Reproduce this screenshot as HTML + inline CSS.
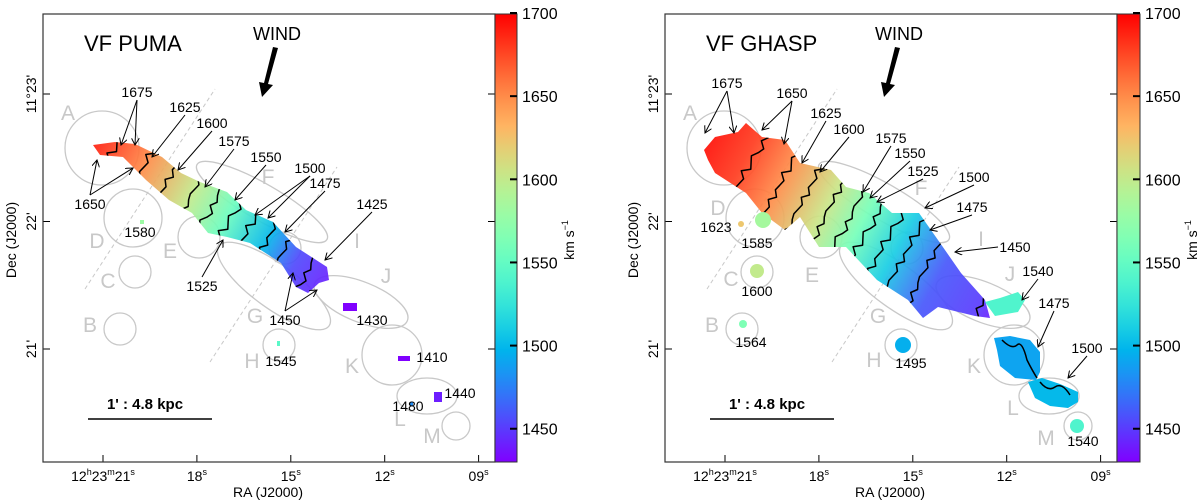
<!DOCTYPE html>
<html><head><meta charset="utf-8"><style>
html,body{margin:0;padding:0;background:#fff}
svg{display:block}
text{font-family:"Liberation Sans","DejaVu Sans",sans-serif}
</style></head><body>
<svg id="fig" width="1200" height="504" viewBox="0 0 1200 504" xmlns="http://www.w3.org/2000/svg"></svg>
<script>
// ---- data ----
const raTicks = ['21','18','15','12','09'];
const raTickSec = [21,18,15,12,9];
const decTicks = ["11°23'", "22'", "21'"];
const decTickMin = [23,22,21];
const cbarTicks = [1700,1650,1600,1550,1500,1450];
const vMin = 1430, vMax = 1700;
const leftStopFrac = [0,0.2,0.4,0.55,0.72,0.85,1];
const leftStopVel = [1690,1650,1600,1555,1500,1455,1440];
const rightStopFrac = [0,0.12,0.25,0.4,0.52,0.65,0.8,0.95,1];
const rightStopVel = [1695,1680,1650,1605,1560,1510,1460,1450,1440];
const contourLevels = [1675,1650,1625,1600,1575,1550,1525,1500,1475,1450];
const leftBlobVel = [1580,1430,1410,1545,1440,1480];
const rightBlobVel = [1623,1585,1600,1564,1495,1540,1540,1490,1500];

// ---- helpers ----
const svg = document.getElementById('fig');
const NS = 'http://www.w3.org/2000/svg';
function mk(tag, attrs, parent){ const e=document.createElementNS(NS,tag); for(const k in attrs) e.setAttribute(k,attrs[k]); (parent||svg).appendChild(e); return e; }
function rainbow(v){ let t=(v-vMin)/(vMax-vMin); t=Math.max(0,Math.min(1,t));
  const r=Math.min(1,Math.abs(2*t-0.5)), g=Math.sin(Math.PI*t), b=Math.cos(Math.PI*t/2);
  return 'rgb('+Math.round(r*255)+','+Math.round(g*255)+','+Math.round(b*255)+')'; }
function xRA(s, off){ return off + 103 + (21 - s)*31.3; }
function yDec(m){ return 349 - (m-21)*127.5; }
function yV(v){ return 462 - (v - vMin)/(vMax - vMin)*449; }

const defs = mk('defs',{});
function panel(off, title, isRight){
  const g = mk('g',{});
  
  
  const L=off+43, R=off+495, T=14, B=462;
  raTickSec.forEach((s,i)=>{ const x=xRA(s,off);
    const t=mk('line',{x1:x,y1:B,x2:x,y2:B-7,stroke:'#000','stroke-width':1},g);
     
    const tx=mk('text',{x:x,y:B+19,'font-size':14,'text-anchor':'middle'},g);
     
    if(i===0){ tx.innerHTML='12<tspan font-size="9" dy="-6">h</tspan><tspan dy="6">23</tspan><tspan font-size="9" dy="-6">m</tspan><tspan dy="6">21</tspan><tspan font-size="9" dy="-6">s</tspan>'; }
    else { tx.innerHTML=raTicks[i]+'<tspan font-size="9" dy="-6">s</tspan>'; }
  });
  decTickMin.forEach((m,i)=>{ const y=yDec(m);
    const t=mk('line',{x1:L,y1:y,x2:L+7,y2:y,stroke:'#000'},g);
     
    mk('line',{x1:R,y1:y,x2:R-7,y2:y,stroke:'#000'},g);
    const tx=mk('text',{x:0,y:0,'font-size':14,'text-anchor':'middle',transform:'translate('+(off+36)+','+y+') rotate(-90)'},g);
    tx.textContent=decTicks[i];
     
  });
  const xl=mk('text',{x:off+268,y:497,'font-size':14,'text-anchor':'middle'},g); xl.textContent='RA (J2000)';
   
  const yl=mk('text',{x:0,y:0,'font-size':14,'text-anchor':'middle',transform:'translate('+(off+16)+',240) rotate(-90)'},g); yl.textContent='Dec (J2000)';
   

  const gray='#c8c8c8';
  const circ=[[102,148,37],[133,218,29],[135,272,16],[120,329,16],[199,237,21],[285,248,16],[279,345,16],[392,355,30],[456,426,14]];
  circ.forEach(c=>{ const e=mk('circle',{cx:c[0]+off,cy:c[1],r:c[2],fill:'none',stroke:gray,'stroke-width':1.3},g);
      });
  const ell=[[262,202,75,18,30],[274,286,68,22,36],[361,302,50,20,22],[427,396,30,18,0]];
  ell.forEach(c=>{ const e=mk('ellipse',{cx:c[0]+off,cy:c[1],rx:c[2],ry:c[3],fill:'none',stroke:gray,'stroke-width':1.3,transform:'rotate('+c[4]+' '+(c[0]+off)+' '+c[1]+')'},g);
      });
  [[85,289,215,89],[210,362,337,167]].forEach(l=>{ const e=mk('line',{x1:l[0]+off,y1:l[1],x2:l[2]+off,y2:l[3],stroke:gray,'stroke-dasharray':'4,3'},g);
      });
  const letters = isRight
    ? [['A',690,120],['D',718,215],['C',731,286],['B',712,332],['E',812,282],['F',921,195],['G',878,323],['H',874,367],['I',981,246],['J',1010,281],['K',974,373],['L',1013,415],['M',1046,445]]
    : [['A',68,120],['D',97,248],['C',108,288],['B',90,332],['E',170,258],['F',268,184],['G',255,323],['H',252,368],['I',357,248],['J',386,283],['K',352,373],['L',400,426],['M',432,443]];
  letters.forEach(l=>{ const t=mk('text',{x:l[1],y:l[2],'font-size':21,fill:gray,'text-anchor':'middle'},g); t.textContent=l[0];
      });

  const poly = isRight
    ? [[704,150],[715,137],[738,132],[746,123],[762,137],[785,140],[800,163],[831,170],[846,187],[869,193],[892,213],[919,213],[938,240],[961,273],[985,300],[990,318],[975,316],[938,307],[923,318],[908,300],[877,280],[846,247],[819,247],[800,217],[785,230],[762,213],[746,193],[715,173],[708,160]]
    : [[93,145],[115,142],[135,144],[162,157],[181,173],[200,182],[227,192],[246,210],[273,222],[296,247],[327,267],[329,280],[319,283],[308,293],[296,287],[281,263],[250,243],[227,237],[208,233],[192,213],[169,200],[146,180],[123,157],[100,155]];
  const ax = isRight ? [704,150,995,312] : [93,145,332,282];
  const fr = isRight ? rightStopFrac : leftStopFrac, vs = isRight ? rightStopVel : leftStopVel;
  const gid = isRight ? 'gradR' : 'gradL';
  const lg = mk('linearGradient',{id:gid,gradientUnits:'userSpaceOnUse',x1:ax[0],y1:ax[1],x2:ax[2],y2:ax[3]},defs);
  fr.forEach((f,i)=>mk('stop',{offset:f,'stop-color':rainbow(vs[i])},lg));
  const cid = isRight ? 'clipR' : 'clipL';
  const cp = mk('clipPath',{id:cid},defs);
  const pts = poly.map(p=>p.join(',')).join(' ');
  mk('polygon',{points:pts},cp);
  const gal = mk('polygon',{points:pts,fill:'url(#'+gid+')','fill-opacity':0.92},g);
   
  const cg = mk('g',{'clip-path':'url(#'+cid+')'},g);
  const dx=ax[2]-ax[0], dy=ax[3]-ax[1], len=Math.hypot(dx,dy), ux=dx/len, uy=dy/len, px=-uy, py=ux;
  const wig=[0,2,-1,3,1,-2,0,2,-3,1,0,-1,2,-2,1,0,-1];
  contourLevels.forEach((lv,ci)=>{
    let f=null;
    for(let i=0;i<vs.length-1;i++){ if((vs[i]-lv)*(vs[i+1]-lv)<=0 && vs[i]!==vs[i+1]){ f=fr[i]+(fr[i+1]-fr[i])*(vs[i]-lv)/(vs[i]-vs[i+1]); break; } }
    if(f===null) return;
    const cx=ax[0]+dx*f, cy=ax[1]+dy*f; let d='';
    for(let k=-8;k<=8;k++){ const s=k*6, w=wig[(k+8+ci*3)%wig.length]*1.5; d+=(k===-8?'M':'L')+(cx+px*s+ux*w).toFixed(1)+','+(cy+py*s+uy*w).toFixed(1); }
    const c=mk('path',{d:d,fill:'none',stroke:'#000','stroke-width':1.5,'stroke-linejoin':'round'},cg);
     
  });
  if(isRight){
    const tail=mk('polygon',{points:'985,302 1000,298 1018,292 1025,300 1018,312 995,316',fill:rainbow(1540)},g);
     
    const k=mk('polygon',{points:'994,338 1010,336 1030,340 1040,352 1040,372 1036,380 1015,378 1000,366 997,350',fill:rainbow(rightBlobVel[7])},g);
     
    const l=mk('polygon',{points:'1028,382 1042,378 1060,384 1078,392 1078,402 1068,408 1050,406 1035,398',fill:rainbow(rightBlobVel[8])},g);
     
    mk('path',{d:'M1002,340 q10,10 15,5 t10,15 q5,10 10,18 M1040,382 q8,10 15,5 t15,8',fill:'none',stroke:'#000','stroke-width':1.5},g);
    const blobs=[[741,224,3],[763,220,8],[757,271,7],[743,324,4],[903,345,8],[1077,426,7]];
    const bv=[0,1,2,3,4,6];
    blobs.forEach((b,i)=>{ const e=mk('circle',{cx:b[0],cy:b[1],r:b[2],fill:rainbow(rightBlobVel[bv[i]])},g);
        });
  } else {
    const blobs=[[140,220,4,4],[343,303,14,8],[398,356,12,5],[277,341,3,5],[434,392,8,10],[410,402,3,4]];
    blobs.forEach((b,i)=>{ const e=mk('rect',{x:b[0],y:b[1],width:b[2],height:b[3],fill:rainbow(leftBlobVel[i])},g);
        });
  }

  const labs = isRight
    ? [['1675',727,88,[[705,133],[734,133]]],['1650',792,98,[[762,130],[784,144]]],['1625',826,118,[[802,163]]],['1600',849,134,[[820,172]]],['1575',891,143,[[863,192]]],['1550',910,158,[[870,198]]],['1525',923,176,[[877,202]]],['1500',974,182,[[925,208]]],['1475',972,212,[[930,230]]],['1450',1015,252,[[955,252]]],['1540',1038,276,[[1022,300]]],['1475',1054,308,[[1038,347]]],['1500',1087,353,[[1068,378]]],['1623',716,232,[]],['1585',757,248,[]],['1600',757,296,[]],['1564',751,347,[]],['1495',911,368,[]],['1540',1083,446,[]]]
    : [['1675',137,97,[[121,145],[135,145]]],['1625',185,112,[[152,157]]],['1600',212,128,[[178,170]]],['1575',234,146,[[205,187]]],['1550',266,162,[[235,200]]],['1500',310,173,[[255,215],[268,218]]],['1475',325,188,[[285,232]]],['1425',372,209,[[325,260]]],['1650',90,209,[[97,160],[133,168]]],['1525',202,291,[[223,240]]],['1450',285,325,[[293,273],[317,290]]],['1580',140,237,[]],['1430',372,325,[]],['1410',432,362,[]],['1545',281,366,[]],['1440',460,398,[]],['1480',408,411,[]]];
  labs.forEach(l=>{
    const t=mk('text',{x:l[1],y:l[2],'font-size':14,'text-anchor':'middle'},g); t.textContent=l[0];
     
    l[3].forEach(p=>{
      let sx=l[1], sy;
      if(p[1]>l[2]) sy=l[2]+3;
      else if(p[1]<l[2]-14) sy=l[2]-14;
      else { sy=l[2]-5; sx = p[0]<l[1] ? l[1]-17 : l[1]+17; }
      const a=mk('line',{x1:sx,y1:sy,x2:p[0],y2:p[1],stroke:'#000','stroke-width':1,'marker-end':'url(#ah)'},g);
        });
  });

  const tt=mk('text',{x:off+84,y:51,'font-size':22},g); tt.textContent=title;
   
  const w=mk('text',{x:off+277,y:40,'font-size':18,'text-anchor':'middle'},g); w.textContent='WIND';
   
  const wa=mk('polygon',{points:[[off+273,47],[off+278,48],[off+268,84],[off+273,85],[off+262,97],[off+259,82],[off+264,83]].map(p=>p.join(',')).join(' '),fill:'#000'},g);
   
  const sb=mk('line',{x1:off+88,y1:419,x2:off+212,y2:419,stroke:'#000','stroke-width':1.5},g);
   
  const st=mk('text',{x:off+145,y:409,'font-size':15,'font-weight':'bold','text-anchor':'middle'},g); st.textContent="1' : 4.8 kpc";
   

  const fr2=mk('rect',{x:L,y:T,width:R-L,height:B-T,fill:'none',stroke:'#333','stroke-width':1.2},g);
   

  const cbX=off+495, cbW=isRight?23:22;
  const cgid='cb'+off;
  const cbg=mk('linearGradient',{id:cgid,x1:0,y1:1,x2:0,y2:0},defs);
  for(let i=0;i<=20;i++) mk('stop',{offset:i/20,'stop-color':rainbow(vMin+(vMax-vMin)*i/20)},cbg);
  const cb=mk('rect',{x:cbX,y:T,width:cbW,height:B-T,fill:'url(#'+cgid+')',stroke:'#333','stroke-width':1},g);
   
  cbarTicks.forEach(v=>{ const y=yV(v);
    mk('line',{x1:cbX+cbW-7,y1:y,x2:cbX+cbW,y2:y,stroke:'#000','stroke-width':2},g);
    const t=mk('text',{x:cbX+cbW+5,y:y+6,'font-size':16},g); t.textContent=v;
      });
  const cl=mk('text',{x:0,y:0,'font-size':14,'text-anchor':'middle',transform:'translate('+(cbX+cbW+57)+',240) rotate(-90)'},g);
  cl.innerHTML='km s<tspan font-size="9" dy="-6">−1</tspan>';
   
}
const mrk=mk('marker',{id:'ah',markerWidth:8,markerHeight:8,refX:7,refY:4,orient:'auto',markerUnits:'userSpaceOnUse'},defs);
mk('path',{d:'M0,0 L7,4 L0,8',fill:'none',stroke:'#000','stroke-width':1},mrk);
panel(0,'VF PUMA',false);
panel(622,'VF GHASP',true);
</script>
</body></html>
